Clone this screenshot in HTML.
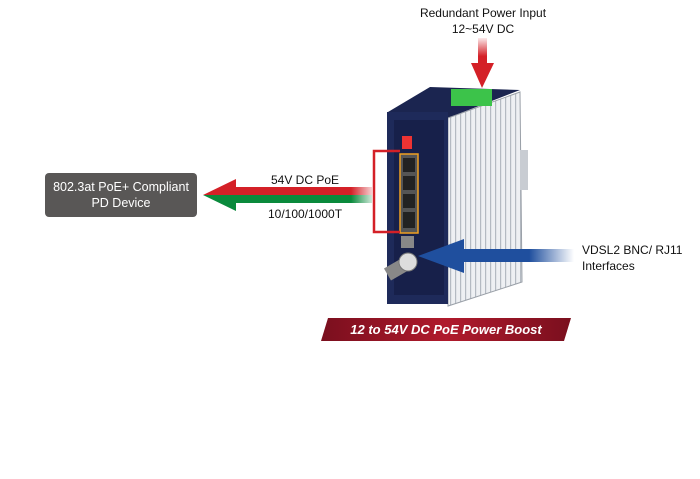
<!DOCTYPE html>
<html><head><style>
html,body{margin:0;padding:0;background:#fff;}
svg{display:block}
text{font-family:"Liberation Sans",Arial,sans-serif;}
</style></head><body>
<svg width="700" height="479" viewBox="0 0 700 479" xmlns="http://www.w3.org/2000/svg">
<defs>
<linearGradient id="fr" x1="0" x2="1"><stop offset="0" stop-color="#d42027"/><stop offset="0.85" stop-color="#d42027"/><stop offset="1" stop-color="#d42027" stop-opacity="0.2"/></linearGradient>
<linearGradient id="fg" x1="0" x2="1"><stop offset="0" stop-color="#0a8a3c"/><stop offset="0.85" stop-color="#0a8a3c"/><stop offset="1" stop-color="#0a8a3c" stop-opacity="0.2"/></linearGradient>
<linearGradient id="fb" x1="0" x2="1"><stop offset="0" stop-color="#1f4f9e"/><stop offset="0.6" stop-color="#1f4f9e"/><stop offset="1" stop-color="#1f4f9e" stop-opacity="0"/></linearGradient>
<linearGradient id="fu" x1="0" y1="0" x2="0" y2="1"><stop offset="0" stop-color="#d42027" stop-opacity="0.1"/><stop offset="0.7" stop-color="#d42027"/></linearGradient>
<linearGradient id="ban" x1="0" x2="1"><stop offset="0" stop-color="#7a0f1e"/><stop offset="0.5" stop-color="#b01a2c"/><stop offset="1" stop-color="#7a0f1e"/></linearGradient>
<pattern id="fins" width="5" height="10" patternUnits="userSpaceOnUse"><rect width="5" height="10" fill="#eef0f3"/><rect width="1.2" height="10" fill="#b4bac2"/></pattern>
</defs>
<text x="483" y="17" font-size="12" text-anchor="middle" fill="#111">Redundant Power Input</text>
<text x="483" y="33" font-size="12" text-anchor="middle" fill="#111">12~54V DC</text>
<rect x="478" y="38" width="9" height="26" fill="url(#fu)"/>
<polygon points="471,63 494,63 482,88" fill="#d42027"/>
<!-- device -->
<polygon points="388,112 430,87 520,90 448,118" fill="#1b2550"/>
<polygon points="448,118 520,92 522,282 448,306" fill="url(#fins)" stroke="#9aa0a8" stroke-width="1"/>
<rect x="520" y="150" width="8" height="40" fill="#c8ccd2"/>
<rect x="387" y="112" width="61" height="192" fill="#1e2a5a"/>
<rect x="394" y="120" width="50" height="175" fill="#17204a"/>
<rect x="451" y="89" width="41" height="17" fill="#3cc34a"/>
<rect x="402" y="136" width="10" height="13" fill="#e33"/>
<rect x="400" y="154" width="18" height="79" fill="#555" stroke="#f0a020" stroke-width="1.5"/>
<rect x="403" y="158" width="12" height="14" fill="#222"/><rect x="403" y="176" width="12" height="14" fill="#222"/>
<rect x="403" y="194" width="12" height="14" fill="#222"/><rect x="403" y="212" width="12" height="16" fill="#222"/>
<rect x="401" y="236" width="13" height="12" fill="#888"/>
<rect x="386" y="262" width="22" height="14" fill="#888" transform="rotate(-30 397 269)"/>
<circle cx="408" cy="262" r="9" fill="#ddd" stroke="#777"/>
<!-- red bracket -->
<polyline points="400,151 374,151 374,232 400,232" fill="none" stroke="#d42027" stroke-width="2.5"/>
<!-- left arrow -->
<rect x="232" y="187" width="140" height="8" fill="url(#fr)"/>
<rect x="232" y="195" width="140" height="8" fill="url(#fg)"/>
<polygon points="203,195 236,179 236,195" fill="#d42027"/>
<polygon points="203,195 236,195 236,211" fill="#0a8a3c"/>
<rect x="45" y="173" width="152" height="44" rx="4" fill="#595756"/>
<text x="121" y="191" font-size="12.5" text-anchor="middle" fill="#fff">802.3at PoE+ Compliant</text>
<text x="121" y="207" font-size="12.5" text-anchor="middle" fill="#fff">PD Device</text>
<text x="305" y="184" font-size="12" text-anchor="middle" fill="#111">54V DC PoE</text>
<text x="305" y="218" font-size="12" text-anchor="middle" fill="#111">10/100/1000T</text>
<!-- blue arrow -->
<rect x="462" y="249" width="112" height="13" fill="url(#fb)"/>
<polygon points="418,256 464,239 464,273" fill="#1f4f9e"/>
<text x="582" y="254" font-size="12" fill="#111">VDSL2 BNC/ RJ11</text>
<text x="582" y="270" font-size="12" fill="#111">Interfaces</text>
<!-- banner -->
<polygon points="328,318 571,318 564,341 321,341" fill="url(#ban)"/>
<text x="446" y="334" font-size="13" font-weight="bold" font-style="italic" text-anchor="middle" fill="#fff">12 to 54V DC PoE Power Boost</text>
</svg>
</body></html>
